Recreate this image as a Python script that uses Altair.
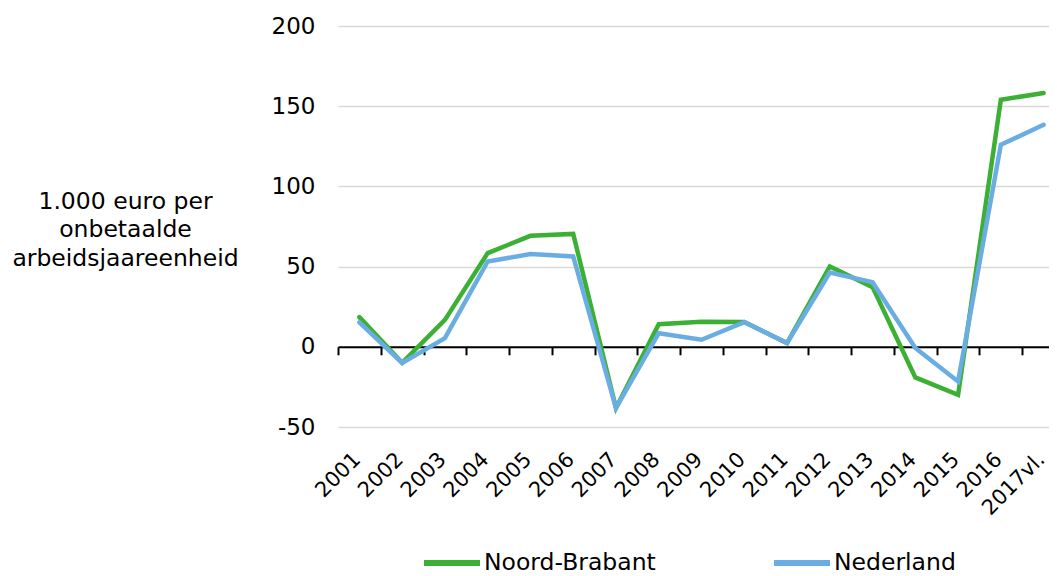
import altair as alt
import pandas as pd

years = ["2001", "2002", "2003", "2004", "2005", "2006", "2007", "2008", "2009",
         "2010", "2011", "2012", "2013", "2014", "2015", "2016", "2017vl."]
noord_brabant = [18.5, -10.0, 16.8, 58.4, 69.2, 70.4, -38.2, 14.1, 15.6,
                 15.4, 2.3, 50.1, 37.2, -19.1, -29.9, 154.0, 158.2]
nederland = [15.2, -10.0, 5.4, 53.2, 57.8, 56.3, -38.2, 8.5, 4.4,
             15.4, 2.3, 46.3, 40.3, -0.8, -21.6, 126.0, 138.4]
series_names = ["Noord-Brabant", "Nederland"]
series_colors = ["#3cb034", "#6aade3"]
y_ticks = [-50, 0, 50, 100, 150, 200]
y_title = ["1.000 euro per", "onbetaalde", "arbeidsjaareenheid"]

rows = []
for i, yr in enumerate(years):
    rows.append({"jaar": yr, "reeks": series_names[0], "waarde": noord_brabant[i]})
    rows.append({"jaar": yr, "reeks": series_names[1], "waarde": nederland[i]})
df = pd.DataFrame(rows)

FONT = "DejaVu Sans"
W, H = 711, 401
ZERO_OFFSET = H * 200 / 250 - H

x_scale = alt.Scale(domain=years, range=[0, 727], paddingInner=0, paddingOuter=0)
y_scale = alt.Scale(domain=[-50, 200], nice=False, zero=False)
color_scale = alt.Scale(domain=series_names, range=series_colors)

y_axis = alt.Axis(values=y_ticks, labelExpr="datum.value",
                  title=y_title, titleAngle=0, titleAlign="center",
                  titleBaseline="alphabetic", titleX=-213, titleY=182,
                  titleFontSize=23.5, titleFont=FONT, titleFontWeight="normal",
                  titleColor="black", titleLineHeight=28.5,
                  labelFontSize=23, labelFont=FONT, labelColor="black",
                  labelPadding=23, ticks=False, domain=False, grid=True,
                  gridColor="#d9d9d9", gridWidth=1.6)

label_axis = alt.Axis(orient="bottom", title=None, labelAngle=315, labelAlign="right",
                      labelBaseline="middle", labelFontSize=21, labelFont=FONT,
                      labelColor="black", labelPadding=29, labelOffset=-2,
                      ticks=False, domain=False, grid=False, labelOverlap=False,
                      labelLimit=0)

tick_axis = alt.Axis(orient="bottom", title=None, labels=False, ticks=True,
                     tickBand="extent", tickSize=8, tickWidth=2, tickColor="black",
                     domain=True, domainColor="black", domainWidth=2, grid=False,
                     offset=ZERO_OFFSET)

legend = alt.Legend(orient="none", legendX=83, legendY=506, direction="horizontal",
                    title=None, symbolType="stroke", symbolStrokeWidth=6,
                    symbolSize=3136, labelFontSize=23.5, labelFont=FONT,
                    labelColor="black", labelOffset=1, columnPadding=106, padding=0,
                    labelLimit=0)

base = alt.Chart(df)


def series_layer(name, x_axis):
    return base.transform_filter(alt.datum.reeks == name).mark_line(
        strokeWidth=4.5, strokeCap="round"
    ).encode(
        x=alt.X("jaar:N", scale=x_scale, axis=x_axis, sort=years),
        y=alt.Y("waarde:Q", scale=y_scale, axis=y_axis),
        color=alt.Color("reeks:N", scale=color_scale, legend=legend),
    )


green = series_layer(series_names[0], tick_axis)
blue = series_layer(series_names[1], label_axis)

chart = alt.layer(green, blue).resolve_axis(x="independent").properties(
    width=W, height=H,
    padding={"left": 330, "top": 18, "right": 0, "bottom": 149},
    autosize=alt.AutoSizeParams(type="none"),
).configure_view(stroke=None)

chart.save("out.html", embed_options={"renderer": "svg", "actions": False})
